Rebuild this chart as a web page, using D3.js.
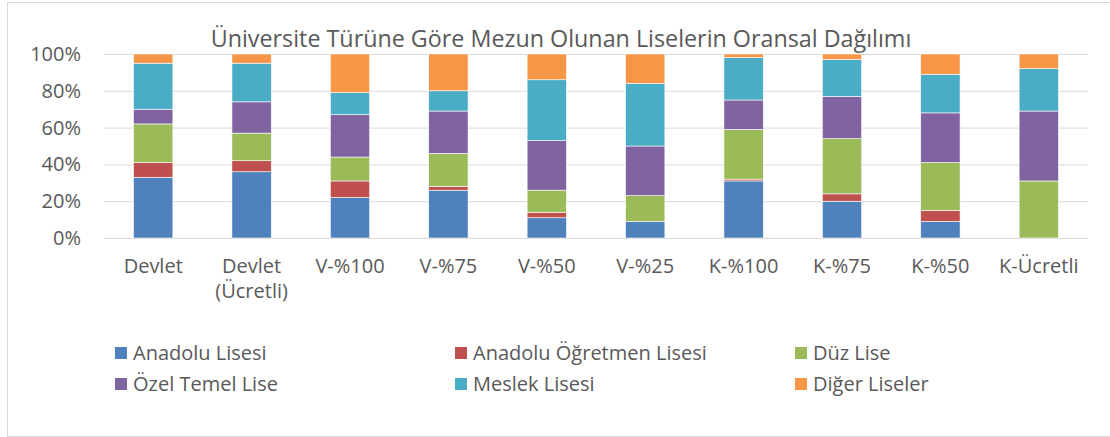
<!DOCTYPE html>
<html>
<head>
<meta charset="utf-8">
<script src="https://cdn.jsdelivr.net/npm/d3@7"></script>
<style>
  body { margin: 0; background: #fff; }
  svg text { font-family: "Open Sans", sans-serif; fill: #595959; }
</style>
</head>
<body>
<div id="chart"></div>
<script>
// stacked 100% column chart
var categories = ["Devlet", "Devlet\n(Ücretli)", "V-%100", "V-%75", "V-%50", "V-%25", "K-%100", "K-%75", "K-%50", "K-Ücretli"];
var seriesNames = ["Anadolu Lisesi", "Anadolu Öğretmen Lisesi", "Düz Lise", "Özel Temel Lise", "Meslek Lisesi", "Diğer Liseler"];
var anadolu  = [33, 36, 22, 26, 11, 9, 31, 20, 9, 0];
var ogretmen = [8, 6, 9, 2, 3, 0, 1, 4, 6, 0];
var duz      = [21, 15, 13, 18, 12, 14, 27, 30, 26, 31];
var ozel     = [8, 17, 23, 23, 27, 27, 16, 23, 27, 38];
var meslek   = [25, 21, 12, 11, 33, 34, 23, 20, 21, 23];
var diger    = [5, 5, 21, 20, 14, 16, 2, 3, 11, 8];
var yTicks = [0, 0.2, 0.4, 0.6, 0.8, 1];
var COLORS = ["#4F81BD", "#C0504D", "#9BBB59", "#8064A2", "#4BACC6", "#F79646"];

var W = 1110, H = 437;
var seriesValues = [anadolu, ogretmen, duz, ozel, meslek, diger];
var table = categories.map(function(c, i) {
    var row = { cat: c };
    seriesNames.forEach(function(s, j) { row[s] = seriesValues[j][i]; });
    return row;
});

var svg = d3.select("#chart").append("svg").attr("width", W).attr("height", H);
svg.append("rect").attr("x", 7.5).attr("y", 2.5).attr("width", W).attr("height", 434)
    .attr("fill", "#fff").attr("stroke", "#D9D9D9");

var x = d3.scaleBand().domain(categories).range([104, 1088]).paddingInner(0.6).paddingOuter(0.3);
var y = d3.scaleLinear().domain([0, 1]).range([238, 54]);

// gridlines + y labels
var yAxis = svg.append("g").attr("transform", "translate(104,0)")
    .call(d3.axisLeft(y).tickValues(yTicks).tickFormat(d3.format(".0%")).tickSize(-984).tickPadding(23));
yAxis.select(".domain").remove();
yAxis.selectAll("line").attr("stroke", "#D9D9D9").attr("stroke-width", 1);
yAxis.selectAll("text").attr("font-size", 20).style("fill", "#595959");

var stack = d3.stack().keys(seriesNames).offset(d3.stackOffsetExpand);
var layers = stack(table);

svg.append("g").selectAll("g").data(layers).join("g")
    .attr("fill", function(d, i) { return COLORS[i]; })
    .selectAll("rect").data(function(d) { return d; }).join("rect")
    .attr("x", function(d) { return x(d.data.cat); })
    .attr("width", x.bandwidth())
    .attr("y", function(d) { return y(d[1]); })
    .attr("height", function(d) { return y(d[0]) - y(d[1]); })
    .attr("stroke", "#fff").attr("stroke-width", 0.6);

// x labels
var xAxis = svg.append("g").attr("transform", "translate(0,238)")
    .call(d3.axisBottom(x).tickSize(0).tickPadding(21));
xAxis.select(".domain").remove();
xAxis.selectAll("text").each(function(d) {
    var t = d3.select(this).text(null).attr("font-size", 20).style("fill", "#595959");
    d.split("\n").forEach(function(line, k) {
        t.append("tspan").attr("x", 0).attr("dy", k === 0 ? "0.71em" : "1.25em").text(line);
    });
}).attr("dy", null);

// title
svg.append("text").attr("x", 561).attr("y", 47).attr("text-anchor", "middle")
    .attr("font-size", 23.3).text("Üniversite Türüne Göre Mezun Olunan Liselerin Oransal Dağılımı");

// legend
var legX = [115, 455, 795], legY = [353, 384];
var leg = svg.append("g").selectAll("g").data(seriesNames).join("g")
    .attr("transform", function(d, i) { return "translate(" + legX[i % 3] + "," + legY[Math.floor(i / 3)] + ")"; });
leg.append("rect").attr("x", 0).attr("y", -6).attr("width", 12).attr("height", 12)
    .attr("fill", function(d, i) { return COLORS[i]; });
leg.append("text").attr("x", 18).attr("dy", "0.35em").attr("font-size", 20).text(function(d) { return d; });
</script>
</body>
</html>
